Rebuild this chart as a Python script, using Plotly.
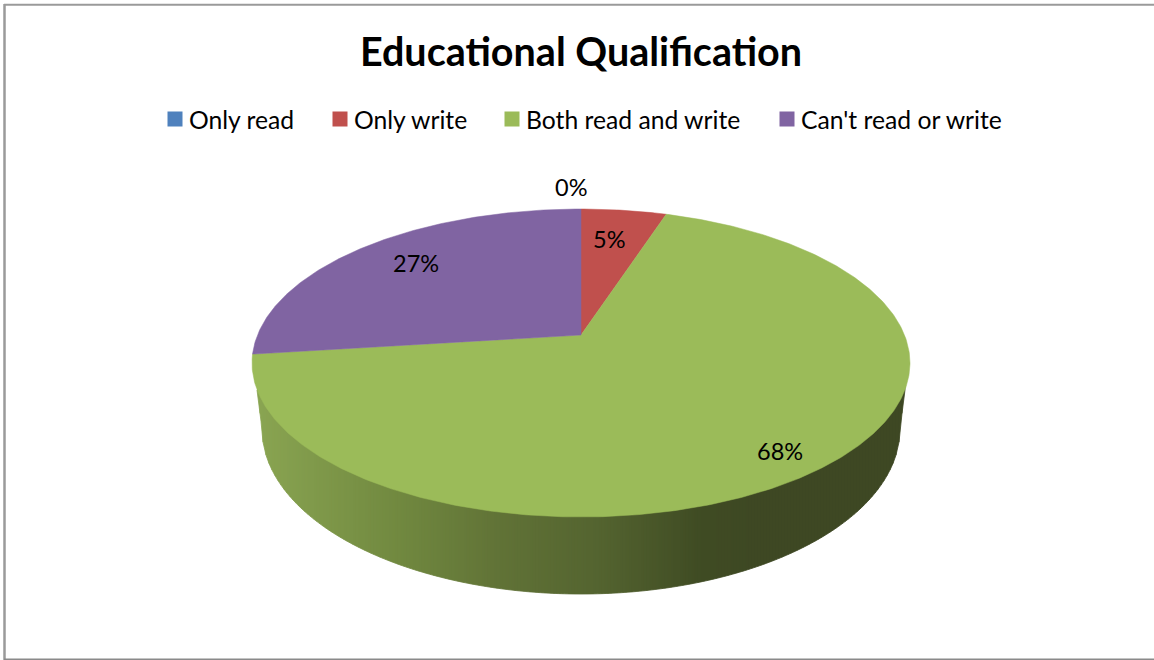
import numpy as np
import plotly.graph_objects as go

title = "Educational Qualification"
categories = ["Only read", "Only write", "Both read and write", "Can't read or write"]
values = [0, 5, 68, 27]
labels = ["0%", "5%", "68%", "27%"]

# styling and geometry
colors = ["#4F81BD", "#C0504D", "#9BBB59", "#8064A2"]
FONT = "Lato"
W, H = 1154, 660
APEX_X, APEX_Y = 581, 335
PERSP, SCALE_Y, SCALE_X = 0.1818, 148.9, 323.5
TOP_CY, TOP_RX, TOP_RY = 363, 329, 154
LOW_CY, LOW_RX, LOW_RY = 429, 319, 165
label_radius = [1.2, 0.72, 0.86, 0.75]
label_shift = [(-10, 1), (-4, 2), (-3, -4), (2, 4)]
legend_text_left = [189, 354, 526, 801]
side_stops = [(257, (138, 165, 82)), (400, (113, 137, 64)), (500, (97, 115, 55)),
              (600, (84, 100, 48)), (700, (64, 76, 36)), (760, (62, 72, 35)), (906, (62, 72, 35))]


def project(theta, r=1.0):
    """Clockwise angle from 12 o'clock on a flat disc -> perspective page position."""
    u, v = r * np.sin(theta), r * np.cos(theta)
    d = 1 + PERSP * v
    return APEX_X + SCALE_X * u / d, APEX_Y - SCALE_Y * v / d


def top_lower(x):
    return TOP_CY + TOP_RY * np.sqrt(np.clip(1 - ((x - APEX_X) / TOP_RX) ** 2, 0, 1))


def side_lower(x):
    dx = np.abs(x - APEX_X)
    edge = APEX_X - LOW_RX
    left = APEX_X - dx
    ell = LOW_CY + LOW_RY * np.sqrt(np.clip(1 - (dx / LOW_RX) ** 2, 0, 1))
    tangent = LOW_CY + (left - edge) * (LOW_CY - 390) / 5.0
    return np.where(dx > LOW_RX, tangent, ell)


def side_color(x):
    xs = [s[0] for s in side_stops]
    return "rgb(%d,%d,%d)" % tuple(np.interp(x, xs, [s[1][i] for s in side_stops]) for i in range(3))


fig = go.Figure()

# rim of the disc, built from vertical strips
edges = np.arange(257, 906, 3.0)
for x0, x1 in zip(edges[:-1], edges[1:]):
    xs = np.linspace(x0, x1, 4)
    px = np.concatenate([xs, xs[::-1]])
    py = np.concatenate([top_lower(xs) - 3, side_lower(xs)[::-1]])
    col = side_color((x0 + x1) / 2)
    fig.add_trace(go.Scatter(x=px, y=py, mode="lines", fill="toself", fillcolor=col,
                             line=dict(color=col, width=0.8), hoverinfo="skip", showlegend=False))

# top face wedges from the values
total = sum(values)
start = 0.0
mids = []
for name, val, col in zip(categories, values, colors):
    sweep = 2 * np.pi * val / total
    mids.append(start + sweep / 2)
    if val > 0:
        th = np.linspace(start, start + sweep, max(3, int(val * 6)))
        ex, ey = project(th)
        fig.add_trace(go.Scatter(x=np.r_[APEX_X, ex, APEX_X], y=np.r_[APEX_Y, ey, APEX_Y],
                                 mode="lines", fill="toself", fillcolor=col,
                                 line=dict(color=col, width=0.5), name=name,
                                 showlegend=False, hoverinfo="name"))
    start += sweep

# legend entries: one native legend per entry so each can sit at its own place
legend_layout = {}
for i, (name, col, left) in enumerate(zip(categories, colors, legend_text_left)):
    key = "legend" if i == 0 else "legend%d" % (i + 1)
    fig.add_trace(go.Scatter(x=[None], y=[None], mode="markers", name=name, legend=key,
                             marker=dict(symbol="square", size=15, color=col, angle=90, standoff=6)))
    legend_layout[key] = dict(orientation="h", x=(left - 40) / W, xanchor="left",
                              y=1 - 119.5 / H, yanchor="middle", itemclick=False,
                              font=dict(family=FONT, size=24.7, color="black"),
                              bgcolor="rgba(0,0,0,0)")

# percentage labels
for lab, mid, rad, (sx, sy) in zip(labels, mids, label_radius, label_shift):
    lx, ly = project(mid, rad)
    fig.add_annotation(x=float(lx), y=float(ly), text=lab, showarrow=False, xshift=sx, yshift=sy,
                       font=dict(family=FONT, size=23.5, color="black"))

fig.update_layout(
    width=W, height=H, margin=dict(l=0, r=0, t=0, b=0),
    paper_bgcolor="white", plot_bgcolor="white",
    title=dict(text="<b>%s</b>" % title, x=581 / W, xanchor="center", y=1 - 52 / H, yanchor="middle",
               font=dict(family=FONT, size=39.5, color="black")),
    xaxis=dict(range=[0, W], visible=False, fixedrange=True),
    yaxis=dict(range=[H, 0], visible=False, fixedrange=True),
    shapes=[
        dict(type="line", xref="x", yref="y", x0=4.5, x1=4.5, y0=4, y1=660, line=dict(color="#9a9a9a", width=2.5)),
        dict(type="line", xref="x", yref="y", x0=4, x1=W, y0=4.8, y1=4.8, line=dict(color="#9a9a9a", width=2)),
        dict(type="line", xref="x", yref="y", x0=4, x1=W, y0=659.2, y1=659.2, line=dict(color="#8a8a8a", width=1.5)),
    ],
    **legend_layout,
)

fig.write_html("out.html", config={"displayModeBar": False},
               post_script="document.body.style.margin='0';document.body.style.overflow='hidden';")
